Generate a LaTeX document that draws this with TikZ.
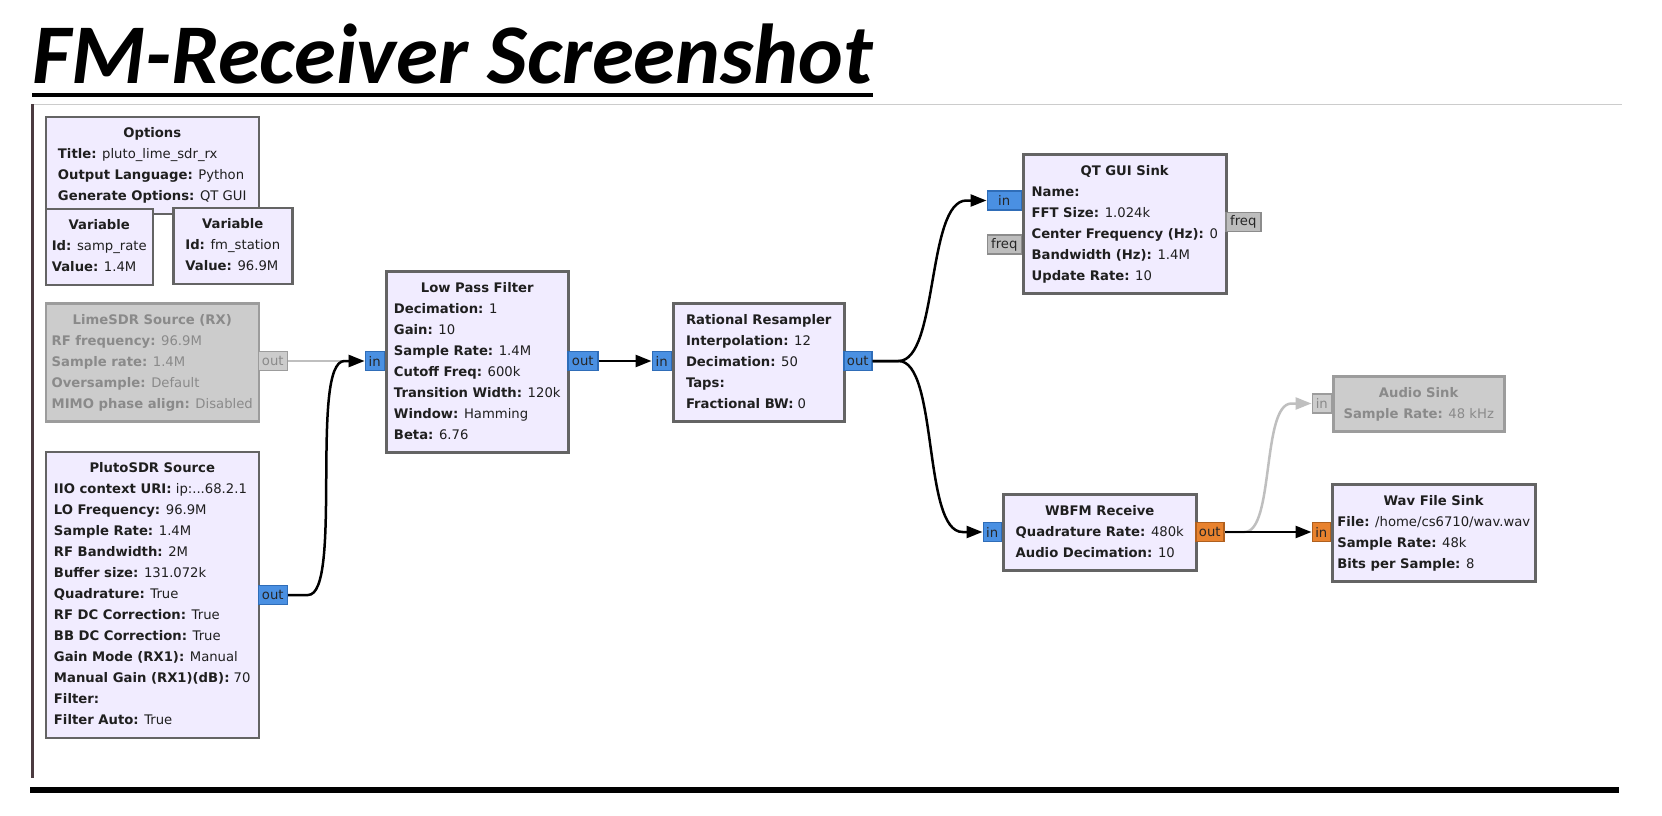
\documentclass[tikz,border=0pt]{standalone}
\usepackage{fontspec}
\setmainfont{DejaVu Sans}
\newfontfamily\titlefont{Carlito}
\usetikzlibrary{arrows.meta,calc}

\definecolor{blockfill}{HTML}{F1ECFF}
\definecolor{blockline}{HTML}{646464}
\definecolor{offfill}{HTML}{CCCCCC}
\definecolor{offline}{HTML}{9C9C9C}
\definecolor{offtext}{HTML}{8A8A8A}
\definecolor{cplxfill}{HTML}{4A90E2}
\definecolor{cplxline}{HTML}{2F6DB8}
\definecolor{fltfill}{HTML}{E8822E}
\definecolor{fltline}{HTML}{B0601E}
\definecolor{msgfill}{HTML}{BDBDBD}
\definecolor{msgline}{HTML}{8C8C8C}
\definecolor{railcol}{HTML}{4B3B40}

\newcommand\blockfont{\fontsize{13.2}{21}\selectfont}
\newcommand\head[1]{\multicolumn{1}{@{}c@{}}{\textbf{#1}}}
\newcommand\prm[2]{\textbf{#1:} #2}

\tikzset{
  block/.style={draw=blockline, fill=blockfill, line width=2.5pt, anchor=north west,
    inner xsep=3pt, inner ysep=6.5pt, text=black!88, font=\blockfont},
  offblock/.style={block, draw=offline, fill=offfill, text=offtext},
  port/.style={line width=1.5pt, minimum height=19pt, inner sep=0pt, font=\blockfont, text=black!85},
  cport/.style={port, fill=cplxfill, draw=cplxline},
  fport/.style={port, fill=fltfill, draw=fltline},
  mport/.style={port, fill=msgfill, draw=msgline},
  offport/.style={port, fill=offfill, draw=offline, text=offtext},
  link/.style={line width=2.5pt, -{Triangle[length=16pt,width=12pt]}},
  offlink/.style={link, draw=black!25}
}

\begin{document}
\begin{tikzpicture}[x=1pt,y=-1pt]
        \fill[white] (0,0) rectangle (1662,816);
        \useasboundingbox (0,0) rectangle (1662,816);

        % Heading with rule below
        \node[anchor=base west, inner sep=0pt, font=\titlefont\bfseries\itshape\fontsize{85}{85}\selectfont] (title) at (32,83) {FM-Receiver Screenshot};%
        \coordinate (ul) at (0,95);
        \draw[line width=4.5pt] (title.west |- ul) -- (title.east |- ul);%

        % Frame lines of the slide
        \draw[black!20, line width=1pt] (32,104) -- (1622,104);%
        \draw[railcol, line width=3pt] (32.5,104) -- (32.5,778);%
        \draw[line width=6pt] (30,790) -- (1619,790);%

        % Drawing block Options and the two Variables
        \node[block, minimum width=213pt] (options) at (44.5,115.5) {\begin{tabular}{@{}l@{}}\head{Options}\\ \prm{Title}{pluto\_lime\_sdr\_rx}\\ \prm{Output Language}{Python}\\ \prm{Generate Options}{QT GUI}\end{tabular}};%
        \node[block, minimum width=107pt] (samprate) at (44.5,207.5) {\begin{tabular}{@{}l@{}}\head{Variable}\\ \prm{Id}{samp\_rate}\\ \prm{Value}{1.4M}\end{tabular}};%
        \node[block, minimum width=119pt] (fmstation) at (172,206.5) {\begin{tabular}{@{}l@{}}\head{Variable}\\ \prm{Id}{fm\_station}\\ \prm{Value}{96.9M}\end{tabular}};%

        % Drawing block LimeSDR Source (disabled)
        \node[offblock, minimum width=213pt] (lime) at (44.5,302) {\begin{tabular}{@{}l@{}}\head{LimeSDR Source (RX)}\\ \prm{RF frequency}{96.9M}\\ \prm{Sample rate}{1.4M}\\ \prm{Oversample}{Default}\\ \prm{MIMO phase align}{Disabled}\end{tabular}};%
        \node[offport, minimum width=29pt, anchor=west] (lime_out) at (257.5,361) {out};%

        % Drawing block PlutoSDR Source
        \node[block, minimum width=213pt] (pluto) at (44.5,450.5) {\begin{tabular}{@{}l@{}}\head{PlutoSDR Source}\\ \prm{IIO context URI}{ip:...68.2.1}\\ \prm{LO Frequency}{96.9M}\\ \prm{Sample Rate}{1.4M}\\ \prm{RF Bandwidth}{2M}\\ \prm{Buffer size}{131.072k}\\ \prm{Quadrature}{True}\\ \prm{RF DC Correction}{True}\\ \prm{BB DC Correction}{True}\\ \prm{Gain Mode (RX1)}{Manual}\\ \prm{Manual Gain (RX1)(dB)}{70}\\ \prm{Filter}{}\\ \prm{Filter Auto}{True}\end{tabular}};%
        \node[cport, minimum width=29pt, anchor=west] (pluto_out) at (257.5,595) {out};%

        % Drawing block Low Pass Filter
        \node[block, minimum width=182pt] (lpf) at (385,270) {\begin{tabular}{@{}l@{}}\head{Low Pass Filter}\\ \prm{Decimation}{1}\\ \prm{Gain}{10}\\ \prm{Sample Rate}{1.4M}\\ \prm{Cutoff Freq}{600k}\\ \prm{Transition Width}{120k}\\ \prm{Window}{Hamming}\\ \prm{Beta}{6.76}\end{tabular}};%
        \node[cport, minimum width=19pt, anchor=east] (lpf_in) at (385,361) {in};%
        \node[cport, minimum width=30pt, anchor=west] (lpf_out) at (567,361) {out};%

        % Drawing block Rational Resampler
        \node[block, minimum width=171pt] (resamp) at (672,302) {\begin{tabular}{@{}l@{}}\head{Rational Resampler}\\ \prm{Interpolation}{12}\\ \prm{Decimation}{50}\\ \prm{Taps}{}\\ \prm{Fractional BW}{0}\end{tabular}};%
        \node[cport, minimum width=19pt, anchor=east] (resamp_in) at (672,361) {in};%
        \node[cport, minimum width=28pt, anchor=west] (resamp_out) at (843,361) {out};%

        % Drawing block QT GUI Sink
        \node[block, minimum width=203pt] (qtsink) at (1022,153) {\begin{tabular}{@{}l@{}}\head{QT GUI Sink}\\ \prm{Name}{}\\ \prm{FFT Size}{1.024k}\\ \prm{Center Frequency (Hz)}{0}\\ \prm{Bandwidth (Hz)}{1.4M}\\ \prm{Update Rate}{10}\end{tabular}};%
        \node[cport, minimum width=34pt, anchor=east] (qtsink_in) at (1022,200.5) {in};%
        \node[mport, minimum width=34pt, anchor=east] (qtsink_freqin) at (1022,244.5) {freq};%
        \node[mport, minimum width=35pt, anchor=west] (qtsink_freqout) at (1225,222) {freq};%

        % Drawing block Audio Sink (disabled)
        \node[offblock, minimum width=171pt] (audio) at (1332,375) {\begin{tabular}{@{}l@{}}\head{Audio Sink}\\ \prm{Sample Rate}{48 kHz}\end{tabular}};%
        \node[offport, minimum width=19pt, anchor=east] (audio_in) at (1332,403.5) {in};%

        % Drawing block WBFM Receive
        \node[block, minimum width=193pt] (wbfm) at (1002,493) {\begin{tabular}{@{}l@{}}\head{WBFM Receive}\\ \prm{Quadrature Rate}{480k}\\ \prm{Audio Decimation}{10}\end{tabular}};%
        \node[cport, minimum width=18pt, anchor=east] (wbfm_in) at (1002,532) {in};%
        \node[fport, minimum width=28pt, anchor=west] (wbfm_out) at (1195,532) {out};%

        % Drawing block Wav File Sink
        \node[block, minimum width=203pt] (wavsink) at (1331,483) {\begin{tabular}{@{}l@{}}\head{Wav File Sink}\\ \prm{File}{/home/cs6710/wav.wav}\\ \prm{Sample Rate}{48k}\\ \prm{Bits per Sample}{8}\end{tabular}};%
        \node[fport, minimum width=18pt, anchor=east] (wavsink_in) at (1331,532) {in};%

        % Drawing connections
        \draw[offlink] (lime_out.east) -- (lpf_in.west);%
        \draw[link] (pluto_out.east) -- ++(20,0) .. controls +(35,0) and +(-35,0) .. ($(lpf_in.west)+(-20,0)$) -- (lpf_in.west);%
        \draw[link] (lpf_out.east) -- (resamp_in.west);%
        \draw[link] (resamp_out.east) -- ++(26,0) .. controls +(40,0) and +(-40,0) .. ($(qtsink_in.west)+(-20,0)$) -- (qtsink_in.west);%
        \draw[link] (resamp_out.east) -- ++(26,0) .. controls +(40,0) and +(-40,0) .. ($(wbfm_in.west)+(-20,0)$) -- (wbfm_in.west);%
        \draw[offlink] (wbfm_out.east) -- ++(20,0) .. controls +(30,0) and +(-30,0) .. ($(audio_in.west)+(-20,0)$) -- (audio_in.west);%
        \draw[link] (wbfm_out.east) -- (wavsink_in.west);%
\end{tikzpicture}
\end{document}
